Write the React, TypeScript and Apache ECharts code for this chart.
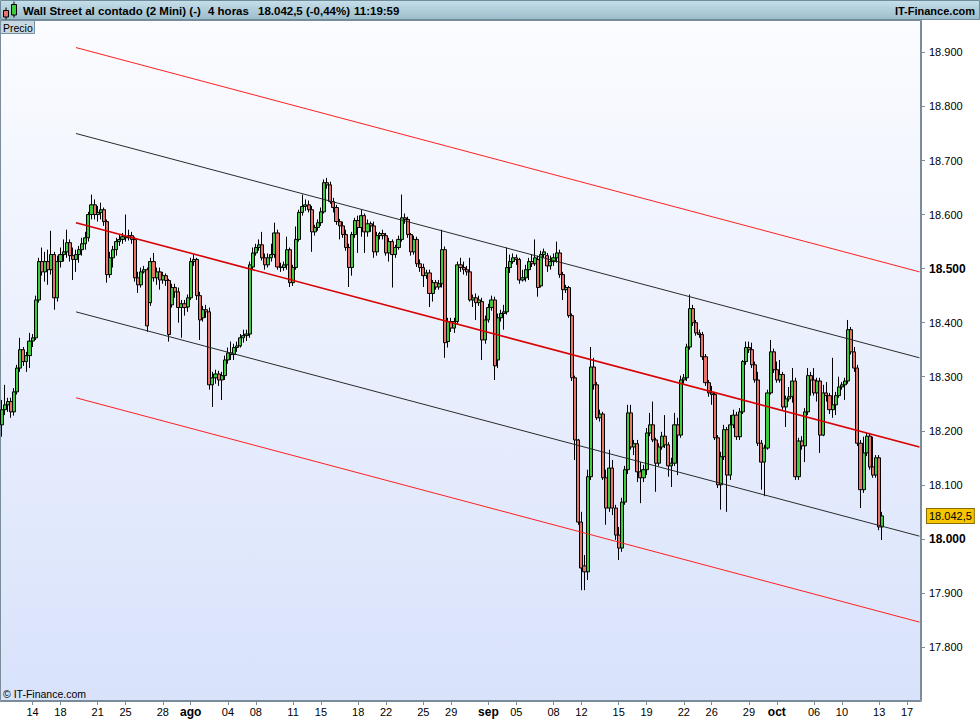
import React, { useEffect, useRef } from 'react';
import * as echarts from 'echarts';

// ---------- data ----------
const leadingSlots = 10; // 4-hour slots before the first labelled day
const dayLabels = ['14', '18', '21', '25', '28', 'ago', '04', '08', '11', '15', '18', '22', '25', '29', 'sep', '05', '08', '12', '15', '19', '22', '26', '29', 'oct', '06', '10', '13', '17'];
const dayRuns = [9, 12, 9, 12, 9, 12, 9, 12, 9, 12, 9, 12, 9, 12, 9, 12, 9, 12, 9, 12, 9, 12, 9, 12, 9, 12, 9, 5];
const monthLabels = ['ago', 'sep', 'oct'];

// [open, close, low, high]
const candles: number[][] = [
  [18211, 18239, 18189, 18257], [18239, 18248, 18229, 18285], [18248, 18254, 18235, 18261], [18254, 18235, 18224, 18261],
  [18235, 18272, 18228, 18279], [18272, 18316, 18267, 18322], [18316, 18350, 18309, 18372], [18350, 18328, 18320, 18355],
  [18328, 18339, 18309, 18346], [18339, 18366, 18316, 18381], [18366, 18372, 18355, 18379],
  [18372, 18442, 18368, 18450], [18442, 18513, 18437, 18520], [18513, 18494, 18487, 18539], [18494, 18513, 18476, 18531],
  [18513, 18498, 18470, 18535], [18498, 18526, 18489, 18570], [18526, 18446, 18424, 18531], [18446, 18513, 18439, 18524],
  [18513, 18526, 18502, 18539], [18526, 18531, 18513, 18554],
  [18531, 18548, 18520, 18572], [18548, 18524, 18513, 18554], [18524, 18517, 18479, 18539], [18517, 18526, 18494, 18535],
  [18526, 18535, 18511, 18542], [18535, 18546, 18524, 18557], [18546, 18557, 18535, 18568], [18557, 18600, 18550, 18605],
  [18600, 18618, 18591, 18637], [18618, 18600, 18591, 18628],
  [18600, 18604, 18587, 18616], [18604, 18609, 18591, 18622], [18609, 18587, 18579, 18613], [18587, 18489, 18474, 18591],
  [18489, 18520, 18483, 18531], [18520, 18535, 18502, 18542], [18535, 18550, 18524, 18557], [18550, 18554, 18542, 18563],
  [18554, 18559, 18546, 18566], [18559, 18557, 18550, 18600],
  [18557, 18561, 18552, 18572], [18561, 18554, 18546, 18568], [18554, 18483, 18476, 18559], [18483, 18470, 18455, 18494],
  [18470, 18494, 18465, 18502], [18494, 18498, 18491, 18505], [18498, 18394, 18383, 18502], [18437, 18513, 18431, 18520],
  [18513, 18483, 18476, 18529], [18483, 18494, 18470, 18502],
  [18494, 18479, 18461, 18502], [18479, 18487, 18472, 18494], [18487, 18478, 18468, 18491], [18478, 18378, 18365, 18481],
  [18433, 18465, 18428, 18472], [18465, 18457, 18446, 18472], [18457, 18428, 18400, 18465], [18428, 18435, 18372, 18442],
  [18435, 18428, 18413, 18442], [18429, 18446, 18420, 18452],
  [18446, 18513, 18442, 18520], [18513, 18517, 18505, 18526], [18517, 18450, 18442, 18520], [18450, 18405, 18368, 18457],
  [18409, 18424, 18402, 18431], [18424, 18420, 18409, 18433], [18420, 18285, 18276, 18428], [18285, 18298, 18244, 18309],
  [18298, 18305, 18287, 18313], [18305, 18294, 18283, 18311],
  [18294, 18302, 18257, 18309], [18302, 18331, 18294, 18339], [18331, 18344, 18324, 18354], [18344, 18341, 18331, 18365],
  [18341, 18354, 18331, 18361], [18354, 18357, 18346, 18365], [18357, 18372, 18354, 18379], [18372, 18376, 18363, 18387],
  [18376, 18379, 18366, 18387], [18379, 18507, 18372, 18513],
  [18503, 18529, 18498, 18539], [18529, 18539, 18524, 18546], [18539, 18544, 18533, 18554], [18544, 18520, 18515, 18568],
  [18520, 18507, 18498, 18528], [18507, 18520, 18502, 18528], [18520, 18526, 18513, 18546], [18526, 18566, 18520, 18585],
  [18566, 18503, 18498, 18572], [18503, 18502, 18494, 18511],
  [18502, 18507, 18496, 18513], [18507, 18535, 18498, 18559], [18535, 18474, 18466, 18539], [18474, 18502, 18468, 18507],
  [18502, 18554, 18498, 18578], [18554, 18604, 18550, 18609], [18604, 18615, 18598, 18637], [18615, 18618, 18607, 18628],
  [18618, 18609, 18604, 18626], [18609, 18568, 18531, 18616],
  [18568, 18576, 18561, 18581], [18576, 18585, 18570, 18591], [18585, 18605, 18579, 18613], [18605, 18659, 18602, 18665],
  [18659, 18655, 18648, 18668], [18655, 18624, 18620, 18661], [18624, 18613, 18604, 18631], [18613, 18587, 18581, 18618],
  [18587, 18579, 18554, 18592], [18579, 18563, 18557, 18587],
  [18563, 18539, 18533, 18572], [18539, 18502, 18466, 18546], [18502, 18563, 18487, 18568], [18563, 18589, 18557, 18594],
  [18589, 18576, 18529, 18598], [18576, 18598, 18559, 18609], [18598, 18568, 18529, 18602], [18568, 18583, 18559, 18591],
  [18583, 18579, 18568, 18587], [18579, 18531, 18520, 18587],
  [18531, 18561, 18524, 18568], [18561, 18565, 18554, 18568], [18565, 18561, 18554, 18572], [18561, 18529, 18524, 18566],
  [18529, 18550, 18513, 18557], [18550, 18526, 18465, 18554], [18526, 18539, 18520, 18544], [18539, 18554, 18535, 18561],
  [18554, 18594, 18550, 18637], [18594, 18591, 18583, 18602],
  [18591, 18563, 18557, 18596], [18563, 18531, 18524, 18566], [18531, 18554, 18526, 18561], [18554, 18509, 18503, 18559],
  [18509, 18502, 18494, 18517], [18502, 18487, 18466, 18509], [18487, 18492, 18481, 18498], [18492, 18454, 18429, 18498],
  [18454, 18474, 18439, 18479], [18474, 18466, 18461, 18479],
  [18466, 18472, 18461, 18479], [18472, 18535, 18465, 18572], [18535, 18363, 18335, 18541], [18365, 18402, 18354, 18409],
  [18402, 18390, 18383, 18409], [18390, 18402, 18381, 18409], [18402, 18507, 18396, 18513], [18507, 18502, 18494, 18520],
  [18502, 18498, 18489, 18513], [18498, 18494, 18487, 18505],
  [18494, 18442, 18439, 18520], [18442, 18446, 18429, 18452], [18446, 18437, 18405, 18454], [18437, 18442, 18431, 18450],
  [18439, 18368, 18331, 18446], [18368, 18405, 18361, 18413], [18405, 18428, 18400, 18435], [18428, 18442, 18422, 18450],
  [18442, 18320, 18294, 18448], [18331, 18409, 18316, 18417],
  [18409, 18417, 18402, 18424], [18417, 18420, 18387, 18433], [18420, 18502, 18415, 18539], [18502, 18513, 18492, 18526],
  [18513, 18520, 18509, 18528], [18520, 18517, 18507, 18526], [18517, 18479, 18472, 18520], [18479, 18483, 18476, 18498],
  [18483, 18498, 18476, 18507], [18498, 18513, 18479, 18520],
  [18513, 18509, 18503, 18526], [18509, 18520, 18505, 18554], [18517, 18465, 18448, 18524], [18468, 18526, 18465, 18533],
  [18526, 18531, 18520, 18537], [18524, 18505, 18494, 18529], [18505, 18513, 18498, 18524], [18513, 18520, 18505, 18528],
  [18520, 18529, 18511, 18550], [18529, 18489, 18483, 18535],
  [18489, 18461, 18442, 18494], [18461, 18465, 18455, 18470], [18465, 18413, 18409, 18468], [18413, 18298, 18292, 18417],
  [18298, 18183, 18146, 18302], [18183, 18031, 18026, 18185], [18031, 17946, 17905, 18050], [17950, 17939, 17905, 17970],
  [17939, 18115, 17924, 18128], [18115, 18318, 18109, 18355],
  [18318, 18285, 18276, 18335], [18285, 18224, 18220, 18290], [18224, 18231, 18217, 18239], [18231, 18113, 18109, 18235],
  [18113, 18057, 18026, 18128], [18057, 18131, 18050, 18165], [18131, 18057, 18044, 18146], [18057, 18007, 17998, 18063],
  [18007, 17983, 17961, 18022], [17983, 18068, 17976, 18076],
  [18068, 18128, 18063, 18135], [18128, 18233, 18120, 18248], [18233, 18170, 18165, 18248], [18170, 18176, 18155, 18183],
  [18176, 18124, 18105, 18183], [18124, 18113, 18066, 18142], [18113, 18128, 18105, 18137], [18128, 18196, 18118, 18205],
  [18196, 18211, 18190, 18233], [18211, 18183, 18179, 18254],
  [18183, 18140, 18087, 18187], [18140, 18170, 18135, 18177], [18170, 18190, 18165, 18198], [18190, 18174, 18168, 18229],
  [18174, 18135, 18115, 18179], [18135, 18140, 18096, 18150], [18140, 18211, 18135, 18233], [18211, 18192, 18118, 18224],
  [18192, 18294, 18187, 18302], [18294, 18298, 18287, 18305],
  [18298, 18355, 18292, 18361], [18355, 18426, 18350, 18452], [18426, 18400, 18394, 18433], [18400, 18381, 18376, 18405],
  [18381, 18378, 18372, 18387], [18378, 18337, 18331, 18383], [18337, 18289, 18283, 18342], [18289, 18270, 18263, 18294],
  [18270, 18267, 18248, 18283], [18267, 18187, 18183, 18272],
  [18187, 18100, 18094, 18192], [18100, 18152, 18054, 18161], [18152, 18202, 18146, 18211], [18202, 18118, 18050, 18207],
  [18118, 18211, 18109, 18229], [18211, 18229, 18205, 18239], [18229, 18189, 18183, 18235], [18189, 18235, 18183, 18242],
  [18235, 18328, 18231, 18331], [18328, 18354, 18322, 18365],
  [18354, 18350, 18344, 18365], [18350, 18322, 18316, 18363], [18322, 18294, 18289, 18328], [18294, 18177, 18172, 18309],
  [18177, 18142, 18091, 18183], [18142, 18168, 18079, 18174], [18168, 18270, 18165, 18276], [18270, 18346, 18267, 18368],
  [18346, 18313, 18307, 18352], [18313, 18294, 18289, 18328],
  [18294, 18304, 18289, 18331], [18304, 18244, 18239, 18309], [18244, 18259, 18207, 18265], [18259, 18263, 18254, 18281],
  [18263, 18292, 18252, 18316], [18292, 18115, 18109, 18298], [18115, 18181, 18109, 18187], [18181, 18172, 18165, 18190],
  [18172, 18235, 18142, 18242], [18235, 18302, 18229, 18316],
  [18302, 18294, 18265, 18309], [18294, 18270, 18265, 18316], [18270, 18292, 18254, 18298], [18292, 18192, 18159, 18298],
  [18192, 18270, 18190, 18285], [18270, 18265, 18254, 18290], [18265, 18239, 18231, 18270], [18239, 18248, 18224, 18335],
  [18248, 18265, 18229, 18272], [18265, 18281, 18261, 18300],
  [18281, 18285, 18276, 18290], [18285, 18292, 18257, 18298], [18292, 18387, 18287, 18405], [18387, 18346, 18341, 18392],
  [18346, 18316, 18309, 18355], [18316, 18177, 18172, 18322], [18177, 18091, 18057, 18183], [18091, 18159, 18085, 18189],
  [18159, 18190, 18153, 18196], [18190, 18133, 18128, 18196],
  [18133, 18118, 18113, 18189], [18118, 18150, 18113, 18155], [18150, 18022, 18016, 18155], [18022, 18042.5, 17998, 18050],
];

// regression channel: upper red, upper black, middle, lower black, lower red
const channelStartSlot = 24;
const channelEndSlot = 296;
const channelStart = [18909, 18750, 18585, 18420, 18261];
const channelEnd = [18494, 18335, 18170, 18005, 17846];
const channelColors = ['#ff2020', '#2a2a2a', '#d80000', '#2a2a2a', '#ff2020'];
const channelWidths = [1, 1, 1.6, 1, 1];

const yMin = 17700;
const yMax = 18960;
const yStep = 100;
const lastPrice = 18042.5;
const titleParts = ['Wall Street al contado (2 Mini) (-)', '4 horas', '18.042,5 (-0,44%)', '11:19:59'];
const brand = 'IT-Finance.com';

// ---------- helpers ----------
const FONT = '"Liberation Sans", Arial, Helvetica, sans-serif';
const slotLabels: string[] = [];
for (let i = 0; i < leadingSlots; i++) slotLabels.push('');
dayLabels.forEach((d, k) => {
  for (let j = 0; j < dayRuns[k]; j++) slotLabels.push(j === 0 ? d : '');
});
const categories = slotLabels.map((_, i) => String(i));
const isLabelled = (i: number) => slotLabels[i] !== '';

const fmtAxis = (v: number) => (v / 1000).toFixed(3);
const fmtPrice = (p: number) => {
  const int = Math.floor(p);
  const dec = Math.round((p - int) * 10);
  return `${Math.floor(int / 1000)}.${String(int % 1000).padStart(3, '0')},${dec}`;
};

const GRID_LEFT = 0;
const GRID_RIGHT = 59;
const GRID_TOP = 20;
const GRID_BOTTOM = 19;

export default function App() {
  const ref = useRef<HTMLDivElement>(null);

  useEffect(() => {
    if (!ref.current) return;
    const chart = echarts.init(ref.current, undefined, { renderer: 'svg' });

    const plotW = 980 - GRID_LEFT - GRID_RIGHT;
    const plotH = 720 - GRID_TOP - GRID_BOTTOM;

    const titleX = [23, 208, 258, 354];

    const option: any = {
      animation: false,
      backgroundColor: '#ffffff',
      grid: { left: GRID_LEFT, right: GRID_RIGHT, top: GRID_TOP, bottom: GRID_BOTTOM, containLabel: false },
      xAxis: {
        type: 'category',
        data: categories,
        boundaryGap: true,
        axisLine: { show: true, lineStyle: { color: '#7a8b99', width: 1 } },
        axisTick: {
          show: true,
          alignWithLabel: true,
          interval: (i: number) => isLabelled(i),
          length: 4,
          lineStyle: { color: '#7a8b99' },
        },
        axisLabel: {
          interval: (i: number) => isLabelled(i),
          formatter: (v: string) => {
            const t = slotLabels[Number(v)];
            return monthLabels.includes(t) ? `{m|${t}}` : t;
          },
          margin: 5,
          color: '#000',
          fontSize: 11,
          fontFamily: FONT,
          rich: { m: { fontWeight: 'bold', fontSize: 12, fontFamily: FONT, color: '#000' } },
        },
        splitLine: { show: false },
      },
      yAxis: {
        type: 'value',
        position: 'right',
        min: yMin,
        max: yMax,
        interval: yStep,
        axisLine: { show: true, lineStyle: { color: '#7a8b99', width: 1 } },
        axisTick: { show: true, length: 4, lineStyle: { color: '#7a8b99' } },
        splitLine: { show: false },
        axisLabel: {
          showMinLabel: false,
          showMaxLabel: false,
          margin: 8,
          color: '#000',
          fontSize: 11,
          fontFamily: FONT,
          formatter: (v: number) => (v % 500 === 0 ? `{b|${fmtAxis(v)}}` : fmtAxis(v)),
          rich: { b: { fontWeight: 'bold', fontSize: 12, fontFamily: FONT, color: '#000' } },
        },
      },
      series: [
        {
          type: 'candlestick',
          data: candles,
          barWidth: 3.6,
          itemStyle: {
            color: '#3dcc3d',
            color0: '#e8736b',
            borderColor: '#000000',
            borderColor0: '#000000',
            borderColorDoji: '#000000',
            borderWidth: 1,
          },
          markLine: {
            silent: true,
            symbol: ['none', 'none'],
            lineStyle: { color: 'rgba(0,0,0,0)', width: 0 },
            label: {
              show: true,
              position: 'end',
              distance: 6,
              formatter: () => fmtPrice(lastPrice),
              backgroundColor: '#f7c600',
              borderColor: '#8a6d00',
              borderWidth: 1,
              padding: [2, 2, 1, 2],
              color: '#000',
              fontSize: 11,
              fontFamily: FONT,
            },
            data: [{ yAxis: lastPrice }],
          },
        },
        ...channelStart.map((s, k) => ({
          type: 'line',
          data: [[channelStartSlot, s], [channelEndSlot, channelEnd[k]]],
          symbol: 'none',
          silent: true,
          z: 3,
          lineStyle: { color: channelColors[k], width: channelWidths[k] },
        })),
      ],
      graphic: {
        elements: [
          {
            type: 'rect',
            z: -10,
            silent: true,
            shape: { x: 0.5, y: GRID_TOP + 0.5, width: plotW - 1, height: plotH - 1 },
            style: {
              fill: new echarts.graphic.LinearGradient(0, 0, 0, 1, [
                { offset: 0, color: '#fbfcff' },
                { offset: 1, color: '#d8e2fb' },
              ]),
              stroke: '#7a8b99',
              lineWidth: 1,
            },
          },
          {
            type: 'rect',
            z: 50,
            silent: true,
            shape: { x: 0.5, y: 0.5, width: 979, height: 19 },
            style: {
              fill: new echarts.graphic.LinearGradient(0, 0, 0, 1, [
                { offset: 0, color: '#c6dfea' },
                { offset: 1, color: '#9cbccb' },
              ]),
              stroke: '#6f8c9c',
              lineWidth: 1,
            },
          },
          // header icon
          { type: 'line', z: 51, silent: true, shape: { x1: 6, y1: 7.5, x2: 6, y2: 19.5 }, style: { stroke: '#000', lineWidth: 1 } },
          { type: 'rect', z: 52, silent: true, shape: { x: 3.5, y: 10.5, width: 5, height: 6.5 }, style: { fill: '#e8736b', stroke: '#000', lineWidth: 1 } },
          { type: 'line', z: 51, silent: true, shape: { x1: 14, y1: 1.5, x2: 14, y2: 17.5 }, style: { stroke: '#000', lineWidth: 1 } },
          { type: 'rect', z: 52, silent: true, shape: { x: 11.5, y: 4.5, width: 5, height: 10.5 }, style: { fill: '#3dcc3d', stroke: '#000', lineWidth: 1 } },
          ...titleParts.map((t, k) => ({
            type: 'text',
            z: 53,
            silent: true,
            x: titleX[k],
            y: 10.5,
            style: {
              text: t,
              fill: '#000',
              font: `bold 11.5px ${FONT}`,
              textAlign: 'left',
              textVerticalAlign: 'middle',
            },
          })),
          {
            type: 'text',
            z: 53,
            silent: true,
            x: 975,
            y: 10.5,
            style: { text: brand, fill: '#000', font: `bold 11px ${FONT}`, textAlign: 'right', textVerticalAlign: 'middle' },
          },
          // "Precio" tab
          {
            type: 'rect',
            z: 53,
            silent: true,
            shape: { x: 0.5, y: 20.5, width: 34, height: 13 },
            style: { fill: '#c7d8e2', stroke: '#7890a0', lineWidth: 1 },
          },
          {
            type: 'text',
            z: 54,
            silent: true,
            x: 3,
            y: 27.5,
            style: { text: 'Precio', fill: '#000', font: `10.5px ${FONT}`, textAlign: 'left', textVerticalAlign: 'middle' },
          },
          {
            type: 'text',
            z: 54,
            silent: true,
            x: 3,
            y: 694,
            style: { text: '\u00a9 ' + brand, fill: '#000', font: `10.5px ${FONT}`, textAlign: 'left', textVerticalAlign: 'middle' },
          },
        ],
      },
    };

    chart.setOption(option);
    return () => chart.dispose();
  }, []);

  return (
    <div
      ref={ref}
      style={{ position: 'fixed', left: 0, top: 0, width: 980, height: 720, background: '#ffffff' }}
    />
  );
}
